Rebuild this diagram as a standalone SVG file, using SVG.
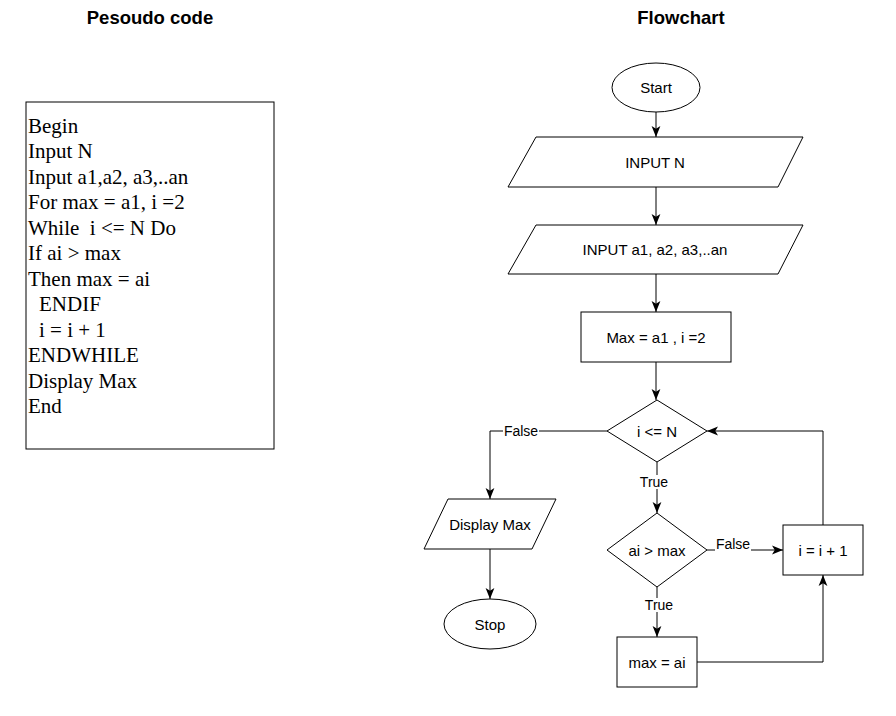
<svg xmlns="http://www.w3.org/2000/svg" width="896" height="716" viewBox="0 0 896 716">
<defs>
<marker id="arr" viewBox="0 0 10 10" refX="10" refY="5" markerWidth="11" markerHeight="11" markerUnits="userSpaceOnUse" orient="auto">
<path d="M0,1 L10,5 L0,9 L2.5,5 Z" fill="#000"/>
</marker>
<style>
.s{fill:#fff;stroke:#000;stroke-width:1}
.t{font-family:"Liberation Sans",Arial,sans-serif;font-size:15px;fill:#000;text-anchor:middle;dominant-baseline:central}
.l{font-family:"Liberation Sans",Arial,sans-serif;font-size:14px;fill:#000;text-anchor:middle;dominant-baseline:central}
.h{font-family:"Liberation Sans",Arial,sans-serif;font-size:18.5px;font-weight:bold;fill:#000;text-anchor:middle}
.p{font-family:"Liberation Serif","Times New Roman",serif;font-size:21px;fill:#000;white-space:pre}
.c{fill:none;stroke:#000;stroke-width:1;marker-end:url(#arr)}
.lb{fill:#fff}
</style>
</defs>
<rect width="896" height="716" fill="#fff"/>
<text class="h" x="150" y="24">Pesoudo code</text>
<text class="h" x="681" y="24">Flowchart</text>

<g id="pseudocode">
<rect class="s" x="26" y="102" width="248" height="347"/>
<text class="p" x="28" y="132.5">Begin</text>
<text class="p" x="28" y="158">Input N</text>
<text class="p" x="28" y="183.5">Input a1,a2, a3,..an</text>
<text class="p" x="28" y="209">For max = a1, i =2</text>
<text class="p" x="28" y="234.5" xml:space="preserve">While  i &lt;= N Do</text>
<text class="p" x="28" y="260">If ai &gt; max</text>
<text class="p" x="28" y="285.5">Then max = ai</text>
<text class="p" x="39" y="311">ENDIF</text>
<text class="p" x="39" y="336.5">i = i + 1</text>
<text class="p" x="28" y="362">ENDWHILE</text>
<text class="p" x="28" y="387.5">Display Max</text>
<text class="p" x="28" y="413">End</text>
</g>

<g id="connectors">
<path class="c" d="M656,112 L656,137"/>
<path class="c" d="M656,187 L656,225"/>
<path class="c" d="M656,274 L656,312"/>
<path class="c" d="M656,362 L656,400"/>
<path class="c" d="M607,431 L490,431 L490,499"/>
<rect class="lb" x="503" y="424" width="36" height="14"/>
<text class="l" x="521" y="431">False</text>
<path class="c" d="M657,462 L657,513"/>
<rect class="lb" x="640" y="475" width="30" height="14"/>
<text class="l" x="654" y="482">True</text>
<path class="c" d="M657,587 L657,637"/>
<rect class="lb" x="645" y="598" width="30" height="14"/>
<text class="l" x="659" y="605">True</text>
<path class="c" d="M707,550 L783,550"/>
<rect class="lb" x="715" y="537" width="36" height="14"/>
<text class="l" x="733" y="544">False</text>
<path class="c" d="M697,662 L823,662 L823,575"/>
<path class="c" d="M823,525 L823,431 L707,431"/>
<path class="c" d="M490,549 L490,599"/>
</g>

<g id="start">
<ellipse class="s" cx="656" cy="87.5" rx="44" ry="24.5"/>
<text class="t" x="656" y="87.5">Start</text>
</g>
<g id="input-n">
<polygon class="s" points="536,137 803,137 778,187 508,187"/>
<text class="t" x="655" y="162">INPUT N</text>
</g>
<g id="input-a">
<polygon class="s" points="536,225 803,225 778,274 508,274"/>
<text class="t" x="655" y="249.5">INPUT a1, a2, a3,..an</text>
</g>
<g id="init">
<rect class="s" x="581" y="312" width="150" height="50"/>
<text class="t" x="656" y="337">Max = a1 , i =2</text>
</g>
<g id="cond-loop">
<polygon class="s" points="657,400 707,431 657,462 607,431"/>
<text class="t" x="657" y="431">i &lt;= N</text>
</g>
<g id="cond-max">
<polygon class="s" points="657,513 707,550 657,587 607,550"/>
<text class="t" x="657" y="550">ai &gt; max</text>
</g>
<g id="assign">
<rect class="s" x="617" y="637" width="80" height="50"/>
<text class="t" x="657" y="662">max = ai</text>
</g>
<g id="increment">
<rect class="s" x="783" y="525" width="80" height="50"/>
<text class="t" x="823" y="550">i = i + 1</text>
</g>
<g id="display">
<polygon class="s" points="448,499 556,499 532,549 424,549"/>
<text class="t" x="490" y="524">Display Max</text>
</g>
<g id="stop">
<ellipse class="s" cx="490" cy="624" rx="46" ry="25"/>
<text class="t" x="490" y="624">Stop</text>
</g>
</svg>
